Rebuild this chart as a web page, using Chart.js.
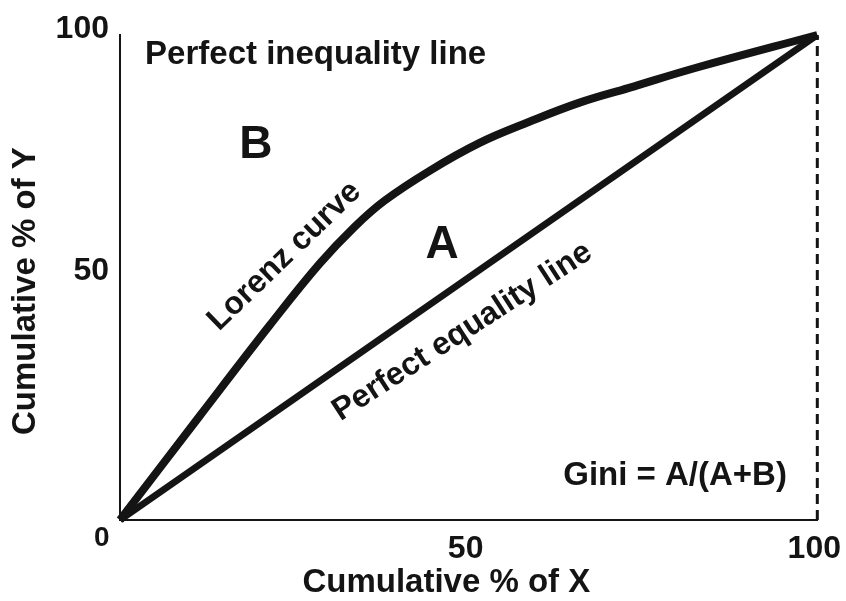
<!DOCTYPE html>
<html>
<head>
<meta charset="utf-8">
<script src="https://cdn.jsdelivr.net/npm/chart.js@4.4.1/dist/chart.umd.min.js"></script>
<style>
html, body { margin: 0; padding: 0; background: #fff; }
#lorenzChart { display: block; }
</style>
</head>
<body>
<canvas id="lorenzChart" width="846" height="601"></canvas>
<script>
// cumulative % of X and Y
const lorenzX = [0, 11.4, 21.5, 28.6, 33.6, 37.9, 44.4, 51.5, 58.7, 65.8, 73.0, 83.0, 100];
const lorenzY = [0, 21.4, 40.2, 52.8, 60.4, 65.8, 72.0, 77.7, 82.1, 86.0, 89.1, 93.4, 100];
const equalityX = [0, 100];
const equalityY = [0, 100];
const inequalityX = [100, 100];
const inequalityY = [0, 100];
const tickValues = [0, 50, 100];

const FAMILY = "'Liberation Sans', Arial, Helvetica, sans-serif";
const INK = "#141414";

function toPoints(xs, ys) {
    return xs.map((v, i) => ({ x: v, y: ys[i] }));
}

// text placed in data units, drawn on top of the chart
const notes = [
    { text: "Perfect inequality line", x: 3.6, y: 95.9, size: 33, align: "left", angle: 0 },
    { text: "B", x: 19.5, y: 77.3, size: 46, align: "center", angle: 0 },
    { text: "A", x: 46.2, y: 56.7, size: 46, align: "center", angle: 0 },
    { text: "Lorenz curve", x: 23.6, y: 54.4, size: 32, align: "center", angle: -44 },
    { text: "Perfect equality line", x: 49.1, y: 38.8, size: 32, align: "center", angle: -33 },
    { text: "Gini = A/(A+B)", x: 79.6, y: 9.1, size: 33, align: "center", angle: 0 },
    { text: "Cumulative % of X", x: 46.8, y: -13, size: 33, align: "center", angle: 0 },
    { text: "Cumulative % of Y", x: -13.5, y: 47.2, size: 33, align: "center", angle: -90 },
    { text: "0", x: -2.6, y: -3.8, size: 28, align: "center", angle: 0 }
];

const notesPlugin = {
    id: "notes",
    afterDraw(chart) {
        const { ctx } = chart;
        const xs = chart.scales.x, ys = chart.scales.y;
        ctx.save();
        ctx.fillStyle = INK;
        notes.forEach(n => {
            ctx.save();
            ctx.translate(xs.getPixelForValue(n.x), ys.getPixelForValue(n.y));
            ctx.rotate(n.angle * Math.PI / 180);
            ctx.font = "bold " + n.size + "px " + FAMILY;
            ctx.textAlign = n.align;
            ctx.textBaseline = "middle";
            ctx.fillText(n.text, 0, 0);
            ctx.restore();
        });
        ctx.restore();
    }
};

const tickFont = { family: FAMILY, size: 32, weight: "bold" };

new Chart(document.getElementById("lorenzChart").getContext("2d"), {
    type: "scatter",
    data: {
        datasets: [
            {
                label: "Lorenz curve",
                data: toPoints(lorenzX, lorenzY),
                showLine: true,
                borderColor: INK,
                borderWidth: 8,
                pointRadius: 0,
                tension: 0.4,
                clip: false
            },
            {
                label: "Perfect equality line",
                data: toPoints(equalityX, equalityY),
                showLine: true,
                borderColor: INK,
                borderWidth: 7,
                pointRadius: 0,
                clip: false
            },
            {
                label: "Perfect inequality line",
                data: toPoints(inequalityX, inequalityY),
                showLine: true,
                borderColor: INK,
                borderWidth: 3,
                borderDash: [10, 6],
                pointRadius: 0,
                clip: false
            }
        ]
    },
    options: {
        responsive: false,
        animation: false,
        layout: { padding: { left: 0, right: 27, top: 35, bottom: 0 } },
        plugins: {
            legend: { display: false },
            tooltip: { enabled: false }
        },
        scales: {
            x: {
                type: "linear",
                min: 0,
                max: 100,
                afterBuildTicks: s => { s.ticks = tickValues.map(v => ({ value: v })); },
                afterFit: s => { s.height = 81; },
                grid: { display: false },
                border: { display: true, color: INK, width: 2 },
                ticks: { padding: 2, labelOffset: -3, color: INK, font: tickFont, maxRotation: 0, callback: v => v === 0 ? "" : v }
            },
            y: {
                type: "linear",
                min: 0,
                max: 100,
                afterBuildTicks: s => { s.ticks = tickValues.map(v => ({ value: v })); },
                afterFit: s => { s.width = 120; },
                grid: { display: false },
                border: { display: true, color: INK, width: 2 },
                ticks: { padding: 3, labelOffset: -6, color: INK, font: tickFont, callback: v => v === 0 ? "" : v }
            }
        }
    },
    plugins: [notesPlugin]
});
</script>
</body>
</html>
